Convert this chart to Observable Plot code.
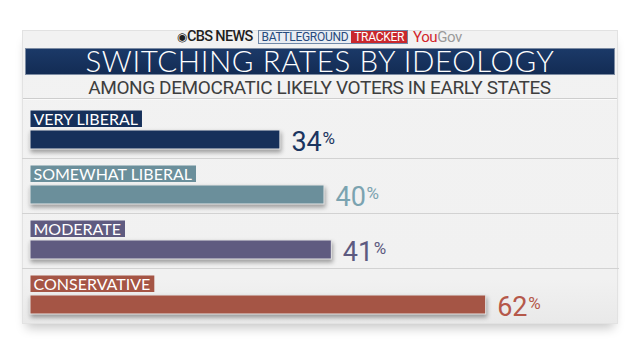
<!DOCTYPE html>
<html><head><meta charset="utf-8">
<script src="https://cdn.jsdelivr.net/npm/d3@7"></script>
<script src="https://cdn.jsdelivr.net/npm/@observablehq/plot@0.6"></script>
<style>
body{margin:0;background:#fff;}
#page{position:relative;width:640px;height:360px;overflow:hidden;background:#fff;font-family:Roboto,sans-serif;}
#card{position:absolute;left:22px;top:30px;width:594px;height:292px;background:linear-gradient(#f2f2f2 0%,#f1f1f1 85%,#e9e9e9 100%);border:1px solid #e2e2e2;box-shadow:0 8px 10px -4px rgba(0,0,0,.22);}
#brand{position:absolute;left:22px;top:30.5px;width:595px;height:13px;display:flex;justify-content:center;align-items:center;font-family:Roboto,sans-serif;line-height:12px;}
#brand .eye{font-size:12px;color:#1f1f1f;line-height:12px;}
#brand .cbs{font-size:14.5px;font-weight:500;color:#1f1f1f;letter-spacing:-0.7px;margin-right:5px;line-height:12px;}
#brand .bt{display:flex;border:1px solid #7088a8;height:12px;align-items:center;}
#brand .bg{background:#e9edf3;color:#264a7e;font-size:12px;padding:0 3px;line-height:12px;letter-spacing:-0.3px;}
#brand .tr{background:#c9272d;color:#fff;font-size:12px;padding:0 3px;line-height:12px;letter-spacing:-0.3px;}
#brand .yg{font-size:15px;margin-left:5px;letter-spacing:-0.4px;line-height:12px;}
#title{position:absolute;left:25px;top:48px;width:588px;height:25px;background:linear-gradient(#1b3968,#132c54);border:1px solid #7d8ca3;color:#fff;font-family:"Lato Light",Lato,sans-serif;font-weight:300;font-size:29.5px;line-height:24px;text-align:center;letter-spacing:0.6px;}
#subtitle{position:absolute;left:22px;top:77px;width:595px;text-align:center;color:#3e3e3e;font-family:Roboto,sans-serif;font-size:19px;line-height:21px;letter-spacing:-0.4px;}
#sep{position:absolute;left:23px;top:98px;width:594px;height:1px;background:#cdcdcd;border-bottom:1px solid #fafafa;}
#chart{position:absolute;left:0;top:103px;}
.bar rect{filter:drop-shadow(1px 3px 2px rgba(0,0,0,.35));}
</style></head><body>
<div id="page">
 <div id="card"></div>
 <div id="brand"><span class="eye">◉</span><span class="cbs">CBS NEWS</span><span class="bt"><span class="bg">BATTLEGROUND</span><span class="tr">TRACKER</span></span><span class="yg"><span style="color:#d2262c">You</span><span style="color:#9a9a9a">Gov</span></span></div>
 <div id="title">SWITCHING RATES BY IDEOLOGY</div>
 <div id="subtitle">AMONG DEMOCRATIC LIKELY VOTERS IN EARLY STATES</div>
 <div id="sep"></div>
 <div id="chart"></div>
</div>
<script>
const categories = ["VERY LIBERAL", "SOMEWHAT LIBERAL", "MODERATE", "CONSERVATIVE"];
const values = [34, 40, 41, 62];
const barColors = ["#16305a", "#6b8f9b", "#5f5b80", "#a55545"];
const valueColors = ["#1b3560", "#7ba3b0", "#5d5a80", "#b5584a"];

const data = categories.map((c, i) => ({category: c, value: values[i]}));

const chart = Plot.plot({
  width: 640, height: 220,
  marginLeft: 30, marginRight: 22, marginTop: 0, marginBottom: 0,
  style: {background: "transparent", overflow: "visible"},
  x: {domain: [0, 80], axis: null},
  y: {domain: categories, padding: 0, axis: null},
  color: {domain: categories, range: barColors},
  marks: [
    Plot.ruleY(categories.slice(1), {y: d => d, dy: -27.5, stroke: "#d2d2d2", insetLeft: -8, insetRight: -1}),
    Plot.barX(data, {x: "value", y: "category", fill: "category", insetTop: 27, insetBottom: 9,
      stroke: "#e6e6e6", strokeWidth: 1, className: "bar"}),
    Plot.text(data, {x: 0, y: "category", text: "category", dx: 3, dy: -6.5, lineAnchor: "bottom",
      textAnchor: "start", fill: "white", fontSize: 16, fontFamily: "Lato", className: "lbl"}),
    ...categories.map((c, i) => Plot.text(data.filter(d => d.category === c), {
      x: "value", y: "category", text: d => String(d.value), dx: 11, dy: 19.5, lineAnchor: "bottom",
      textAnchor: "start", fill: valueColors[i], fontSize: 27, fontFamily: "Roboto"})),
    ...categories.map((c, i) => Plot.text(data.filter(d => d.category === c), {
      x: "value", y: "category", text: d => "%", dx: 42, dy: 12.5, lineAnchor: "bottom",
      textAnchor: "start", fill: valueColors[i], fontSize: 17, fontFamily: "Roboto"}))
  ]
});
document.getElementById("chart").append(chart);

// label background boxes sized to each label's text
chart.querySelectorAll("g.lbl text").forEach((t, k) => {
  const i = typeof t.__data__ === "number" ? t.__data__ : k;
  const b = t.getBBox();
  const r = document.createElementNS("http://www.w3.org/2000/svg", "rect");
  r.setAttribute("x", b.x - 3);
  r.setAttribute("y", b.y + 2);
  r.setAttribute("width", b.width + 7);
  r.setAttribute("height", b.height - 2.5);
  r.setAttribute("fill", barColors[i]);
  const tr = t.getAttribute("transform");
  if (tr) r.setAttribute("transform", tr);
  t.parentNode.insertBefore(r, t);
});
</script>
</body></html>
